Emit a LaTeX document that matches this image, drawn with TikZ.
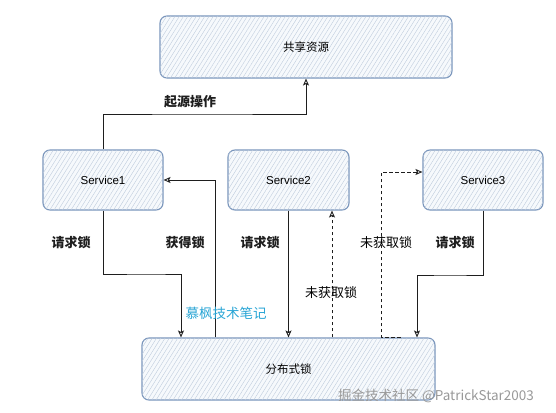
\documentclass[tikz,border=0pt]{standalone}
\usepackage{fontspec}
\setmainfont{Liberation Sans}
\newfontfamily\cjk{Noto Sans CJK SC}
\usetikzlibrary{arrows.meta,patterns.meta}
\definecolor{boxline}{HTML}{7A96BC}
\definecolor{boxfill}{HTML}{F6F9FC}
\definecolor{hatch}{HTML}{BFCCDD}
\definecolor{wm}{HTML}{2AA6D6}
\definecolor{ink}{HTML}{1E1E1E}
\tikzset{
  box/.style={draw=boxline, line width=1.1pt, rounded corners=7pt, fill=boxfill,
    postaction={pattern={Lines[angle=58,distance=3.6pt,line width=0.4pt]}, pattern color=hatch},
    inner sep=0pt, font=\fontsize{11.5}{13}\selectfont},
  conn/.style={draw=ink, line width=0.9pt, -{Stealth[open,length=7pt,width=6pt,inset=1.5pt]}},
  dconn/.style={conn, dashed, dash pattern=on 3.5pt off 2.5pt},
  lbl/.style={font=\cjk\bfseries\fontsize{13}{15}\selectfont, text=ink, inner sep=0pt},
  lbln/.style={font=\cjk\fontsize{13}{15}\selectfont, text=black, inner sep=0pt},
}
\begin{document}
\begin{tikzpicture}[x=1pt,y=-1pt]
\useasboundingbox[fill=white] (0,0) rectangle (556,412);
\node[box, minimum width=292pt, minimum height=62pt] (res) at (306,47) {\cjk 共享资源};
\node[box, minimum width=120pt, minimum height=60pt] (s1) at (103,180) {Service1};
\node[box, minimum width=121pt, minimum height=60pt] (s2) at (288.5,180) {Service2};
\node[box, minimum width=120pt, minimum height=60pt] (s3) at (483,180) {Service3};
\node[box, minimum width=293pt, minimum height=62pt] (lock) at (288.5,369) {\cjk 分布式锁};

% connectors
\draw[conn] (s1.north) |- (200,114) -| (res.south);
\draw[conn] (s1.south) |- (150,274) -| ([xshift=-107.5pt]lock.north);
\draw[conn] ([xshift=-73.5pt]lock.north) |- (s1.east);
\draw[conn] (s2.south) -- (lock.north);
\draw[dconn] ([xshift=43.5pt]lock.north) -- ([xshift=43.5pt]s2.south);
\draw[dconn] ([xshift=112pt]lock.north) -- ++(-19,0) |- ([yshift=8pt]s3.west);
\draw[conn] (s3.south) |- (450,275) -| ([xshift=128.5pt]lock.north);

% labels
\node[lbl] (l1) at (190,102) {起源操作};
\node[lbl] (l2) at (71,243) {请求锁};
\node[lbl] (l3) at (185,243) {获得锁};
\node[lbl] (l4) at (260,243) {请求锁};
\node[lbln] (l5) at (386,243) {未获取锁};
\node[lbl] (l6) at (455,243) {请求锁};
\node[lbln] (l7) at (331,293) {未获取锁};
\node[font=\cjk\fontsize{13.5}{15}\selectfont, text=wm, inner sep=0pt] (wm1) at (226,313) {慕枫技术笔记};
\node[font=\cjk\fontsize{13.5}{15}\selectfont, text=gray!80, inner sep=0pt] (wm2) at (436,396) {掘金技术社区 @PatrickStar2003};
\end{tikzpicture}
\end{document}
